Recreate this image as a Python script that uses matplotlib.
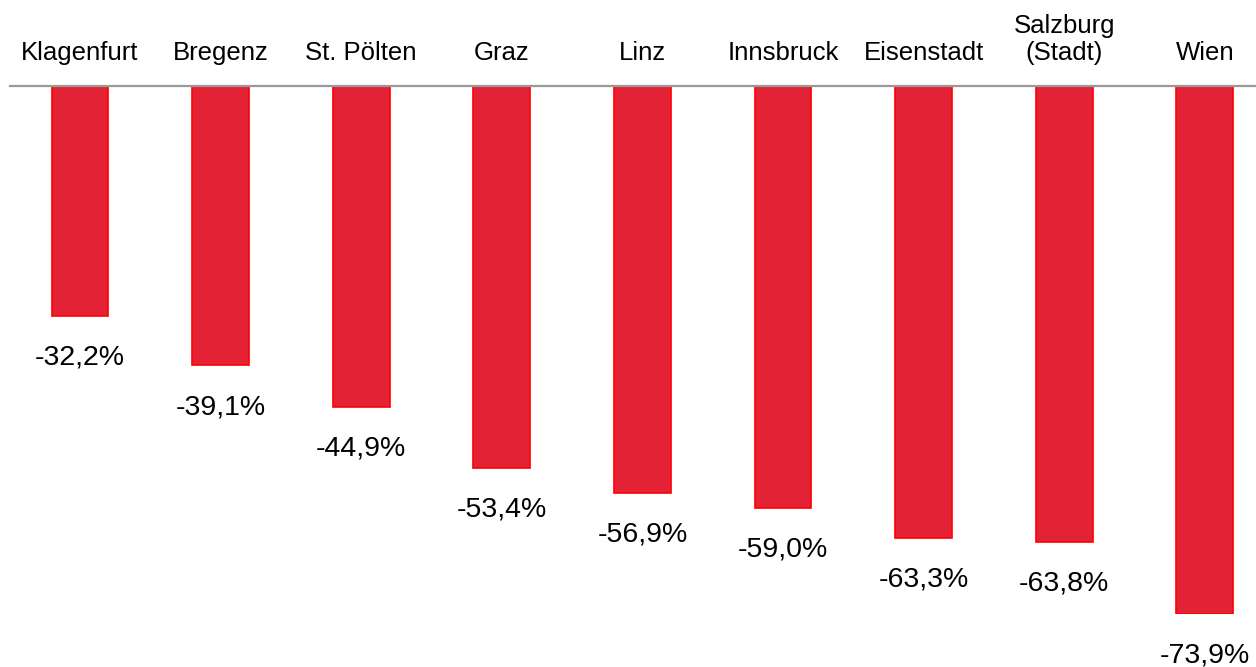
import matplotlib.pyplot as plt

# data
cities = ['Klagenfurt', 'Bregenz', 'St. Pölten', 'Graz', 'Linz', 'Innsbruck',
          'Eisenstadt', 'Salzburg\n(Stadt)', 'Wien']
change = [-32.2, -39.1, -44.9, -53.4, -56.9, -59.0, -63.3, -63.8, -73.9]

plt.rcParams['font.family'] = ['Liberation Sans', 'DejaVu Sans']

fig = plt.figure(figsize=(12.56, 6.67), dpi=100)
# axes extends a bit past the right edge, as in the original crop
ax = fig.add_axes([9.7 / 1256, 1 - 614 / 667, 1265.4 / 1256, 528 / 667])

x = list(range(len(cities)))
ax.bar(x, change, width=0.405, color='#E32236', edgecolor='#FF0000', linewidth=1.2)

for xi, v in zip(x, change):
    label = f'{v:.1f}%'.replace('.', ',')
    ax.annotate(label, (xi, v), xytext=(0, -30), textcoords='offset points',
                ha='center', va='center', fontsize=20.5, color='black')

ax.set_xlim(-0.5, len(cities) - 0.5)
ax.set_ylim(-73.9, 0)

ax.xaxis.tick_top()
ax.set_xticks(x)
ax.set_xticklabels(cities, fontsize=18.5, linespacing=1.15)
ax.tick_params(axis='x', length=0, pad=15)
ax.set_yticks([])

for side in ['left', 'right', 'bottom']:
    ax.spines[side].set_visible(False)
ax.spines['top'].set_color('#999999')
ax.spines['top'].set_linewidth(1.6)

fig.savefig('out.png', dpi=100)
